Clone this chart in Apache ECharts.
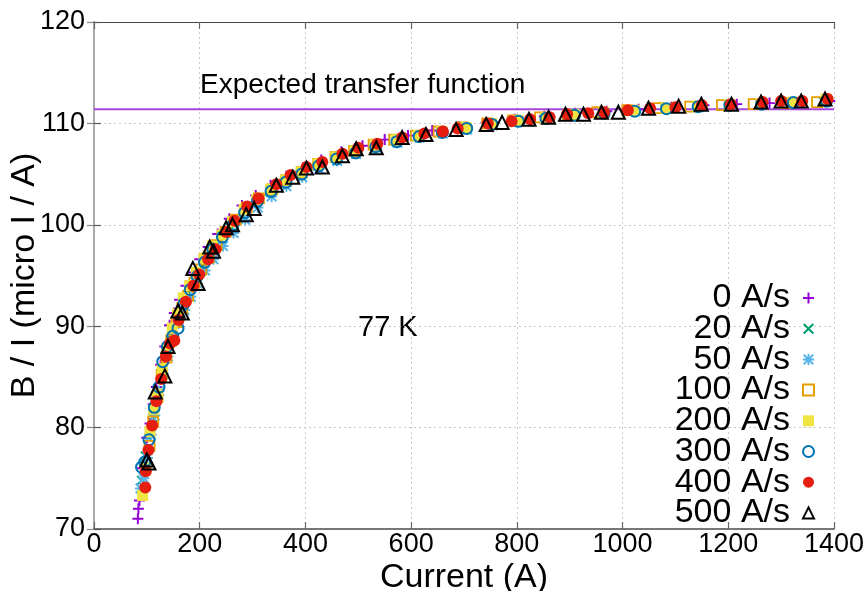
<!DOCTYPE html>
<html>
<head>
<meta charset="utf-8">
<script src="https://cdn.jsdelivr.net/npm/echarts@6/dist/echarts.min.js"></script>
<style>
  html, body { margin: 0; padding: 0; background: #fff; }
  #chart { width: 866px; height: 591px; }
</style>
</head>
<body>
<div id="chart"></div>
<script>
// Ramp-rate labels for each measured series
const rampRates = ['0 A/s', '20 A/s', '50 A/s', '100 A/s', '200 A/s', '300 A/s', '400 A/s', '500 A/s'];

// Current (A) and B/I (micro T / A) for each ramp rate
const cur0   = [83, 84, 86, 92, 100, 106, 112, 118, 126, 134, 143, 152, 162, 174, 186, 200, 216, 234, 256, 280, 306, 334, 364, 396, 430, 468, 508, 550, 594, 640, 690, 742, 796, 852, 910, 970, 1030, 1092, 1154, 1216, 1278, 1340, 1392];
const bi0    = [71.0, 72.0, 72.8, 76.0, 79.0, 80.4, 82.3, 84.0, 86.2, 88.0, 90.1, 91.3, 92.6, 94.0, 95.3, 96.6, 97.8, 99.1, 100.6, 101.9, 102.9, 103.9, 104.8, 105.6, 106.4, 107.2, 107.8, 108.4, 108.8, 109.3, 109.7, 110.1, 110.4, 110.7, 111.0, 111.2, 111.4, 111.6, 111.8, 111.9, 112.0, 112.1, 112.2];

const cur20  = [90, 97, 104, 111, 119, 128, 137, 147, 157, 168, 180, 193, 207, 222, 240, 260, 282, 306, 332, 360, 390, 422, 456, 492, 530, 570, 612, 656, 702, 750, 800, 852, 906, 962, 1020, 1080, 1140, 1200, 1260, 1320, 1380];
const bi20   = [74.8, 77.2, 79.0, 81.0, 83.0, 85.4, 87.5, 89.2, 90.5, 92.0, 93.3, 94.6, 95.9, 97.1, 98.4, 99.7, 100.9, 102.2, 103.3, 104.2, 105.0, 105.8, 106.6, 107.3, 107.8, 108.3, 108.8, 109.2, 109.6, 110.0, 110.3, 110.6, 110.9, 111.1, 111.3, 111.5, 111.7, 111.85, 111.95, 112.05, 112.15];

const cur50  = [88, 94, 101, 108, 115, 123, 131, 140, 150, 160, 171, 183, 196, 210, 226, 244, 264, 286, 310, 336, 364, 394, 426, 460, 496, 534, 574, 616, 660, 706, 754, 804, 856, 910, 966, 1024, 1084, 1144, 1204, 1264, 1324, 1384];
const bi50   = [74.0, 75.0, 77.0, 79.3, 81.2, 83.6, 85.3, 87.0, 88.8, 90.3, 91.6, 92.9, 94.2, 95.5, 96.6, 97.9, 99.2, 100.5, 101.7, 102.8, 103.8, 104.7, 105.5, 106.3, 107.0, 107.6, 108.1, 108.6, 109.0, 109.4, 109.8, 110.2, 110.5, 110.8, 111.0, 111.2, 111.45, 111.6, 111.75, 111.9, 112.0, 112.1];

const cur100 = [105, 112, 120, 128, 137, 146, 156, 167, 178, 190, 203, 217, 232, 249, 268, 289, 312, 337, 364, 393, 424, 457, 492, 529, 568, 609, 652, 697, 744, 793, 844, 897, 952, 1009, 1068, 1128, 1188, 1248, 1308, 1368];
const bi100  = [78.2, 80.6, 83.0, 85.2, 86.9, 88.6, 90.4, 91.8, 93.0, 94.3, 95.6, 96.8, 98.0, 99.3, 100.5, 101.7, 102.6, 103.5, 104.4, 105.2, 106.0, 106.7, 107.3, 107.9, 108.4, 108.8, 109.2, 109.6, 110.0, 110.3, 110.6, 110.85, 111.1, 111.3, 111.5, 111.65, 111.8, 111.9, 112.0, 112.1];

const cur200 = [92, 98, 106, 113, 120, 129, 138, 148, 158, 169, 181, 194, 208, 224, 242, 262, 284, 308, 334, 362, 392, 424, 458, 494, 532, 572, 614, 658, 704, 752, 802, 854, 908, 964, 1022, 1082, 1142, 1202, 1262, 1322, 1385];
const bi200  = [73.3, 76.0, 79.6, 81.8, 83.3, 85.8, 87.8, 89.8, 91.2, 92.8, 94.0, 95.3, 96.7, 97.9, 99.0, 100.3, 101.5, 102.5, 103.5, 104.4, 105.2, 106.0, 106.7, 107.3, 107.9, 108.4, 108.8, 109.2, 109.6, 110.0, 110.3, 110.6, 110.9, 111.1, 111.3, 111.5, 111.7, 111.85, 111.95, 112.1, 112.4];

const cur300 = [90, 96, 104, 114, 123, 130, 139, 149, 159, 170, 182, 195, 209, 225, 243, 263, 285, 309, 335, 363, 393, 425, 459, 495, 533, 573, 615, 659, 705, 753, 803, 855, 909, 965, 1023, 1083, 1143, 1203, 1263, 1323, 1386];
const bi300  = [76.1, 76.6, 78.8, 82.0, 84.0, 86.5, 88.0, 89.0, 89.8, 92.2, 93.6, 94.9, 96.3, 97.6, 98.8, 100.0, 101.2, 102.3, 103.3, 104.2, 105.0, 105.8, 106.5, 107.1, 107.7, 108.2, 108.7, 109.1, 109.5, 109.9, 110.2, 110.5, 110.8, 111.0, 111.2, 111.45, 111.65, 111.8, 111.9, 112.05, 112.2];

const cur400 = [97, 98, 103, 110, 118, 127, 136, 144, 152, 160, 174, 188, 199, 216, 230, 250, 266, 290, 311, 345, 372, 402, 432, 470, 500, 536, 583, 625, 660, 688, 745, 790, 825, 862, 895, 935, 965, 1010, 1052, 1100, 1150, 1205, 1265, 1300, 1340, 1388];
const bi400  = [74.1, 75.7, 77.8, 80.2, 82.6, 84.8, 87.0, 88.3, 88.6, 90.6, 92.4, 94.0, 95.1, 96.6, 97.6, 99.3, 100.4, 101.8, 102.6, 104.0, 104.9, 105.7, 106.2, 107.0, 107.6, 108.0, 108.6, 109.0, 109.2, 109.5, 110.0, 110.2, 110.4, 110.6, 110.9, 111.0, 111.1, 111.3, 111.5, 111.6, 111.8, 111.9, 112.1, 112.2, 112.2, 112.4];

const cur500 = [100, 104, 116, 134, 140, 159, 167, 187, 197, 219, 226, 250, 262, 288, 303, 345, 376, 402, 432, 470, 496, 534, 583, 628, 685, 742, 772, 823, 860, 892, 926, 960, 992, 1049, 1106, 1149, 1206, 1262, 1300, 1338, 1383];
const bi500  = [76.8, 76.5, 83.5, 85.1, 88.0, 91.5, 91.3, 95.7, 94.2, 97.8, 97.4, 99.7, 100.0, 101.0, 101.6, 103.9, 104.7, 105.6, 105.7, 106.8, 107.5, 107.6, 108.6, 108.9, 109.4, 109.9, 110.1, 110.4, 110.6, 110.9, 110.9, 111.1, 111.1, 111.5, 111.7, 111.9, 111.9, 112.1, 112.2, 112.2, 112.4];

// Expected (design) transfer function, constant over the current range
const expectedRange = [0, 1400];
const expectedValue = 111.4;

// Axis ranges and tick spacing
const xMin = 0, xMax = 1400, xStep = 200;
const yMin = 70, yMax = 120, yStep = 10;

const currents = [cur0, cur20, cur50, cur100, cur200, cur300, cur400, cur500];
const ratios   = [bi0, bi20, bi50, bi100, bi200, bi300, bi400, bi500];

const FONT = '"Liberation Sans", Arial, Helvetica, sans-serif';

// Marker shapes (gnuplot-like point types)
const PLUS = 'path://M4.1,0H5.9V4.1H10V5.9H5.9V10H4.1V5.9H0V4.1H4.1Z';
const CROSS = 'path://M1.3,0L5,3.7L8.7,0L10,1.3L6.3,5L10,8.7L8.7,10L5,6.3L1.3,10L0,8.7L3.7,5L0,1.3Z';
const STAR = PLUS + CROSS.replace('path://', '');

const markerStyles = [
  { symbol: PLUS,       size: 11, itemStyle: { color: '#9400d3' } },
  { symbol: CROSS,      size: 10, itemStyle: { color: '#009e73' } },
  { symbol: STAR,       size: 11, itemStyle: { color: '#56b4e9' } },
  { symbol: 'rect',     size: 10, itemStyle: { color: 'rgba(255,255,255,0)', borderColor: '#e69f00', borderWidth: 1.8 } },
  { symbol: 'rect',     size: 11, itemStyle: { color: '#f0e442' } },
  { symbol: 'circle',   size: 11, itemStyle: { color: 'rgba(255,255,255,0)', borderColor: '#0072b2', borderWidth: 2 } },
  { symbol: 'circle',   size: 12, itemStyle: { color: '#e51e10' } },
  { symbol: 'triangle', size: 13, itemStyle: { color: 'rgba(255,255,255,0)', borderColor: '#000000', borderWidth: 2 } }
];

const series = [{
  name: 'Expected transfer function',
  type: 'line',
  data: expectedRange.map(x => [x, expectedValue]),
  symbol: 'none',
  silent: true,
  lineStyle: { color: '#a645dc', width: 2 },
  z: 1
}];

rampRates.forEach((name, i) => {
  const m = markerStyles[i];
  series.push({
    name: name,
    type: 'scatter',
    data: currents[i].map((c, k) => [c, ratios[i][k]]),
    symbol: m.symbol,
    symbolSize: m.size,
    itemStyle: Object.assign({ opacity: 1 }, m.itemStyle),
    z: 2 + i,
    silent: true
  });
});

const gridLine = { show: true, lineStyle: { color: '#c8c8c8', width: 1, type: [2, 3] } };
const plainNumber = v => String(v);

const chart = echarts.init(document.getElementById('chart'), null, { renderer: 'canvas' });
chart.setOption({
  animation: false,
  backgroundColor: '#ffffff',
  textStyle: { fontFamily: FONT },
  grid: { left: 94, right: 32, top: 22, bottom: 62, show: false, containLabel: false, outerBoundsMode: 'none' },
  xAxis: [{
    type: 'value', min: xMin, max: xMax, interval: xStep,
    name: 'Current (A)', nameLocation: 'middle', nameGap: 32, nameMoveOverlap: false,
    nameTextStyle: { fontSize: 34, color: '#000', fontFamily: FONT },
    axisLine: { show: true, lineStyle: { color: '#777', width: 2 } },
    axisTick: { show: true, inside: true, length: 7, lineStyle: { color: '#666', width: 1.2 } },
    axisLabel: { fontSize: 27, color: '#000', margin: 2, fontFamily: FONT, formatter: plainNumber, hideOverlap: false },
    splitLine: gridLine
  }, {
    type: 'value', min: xMin, max: xMax, interval: xStep, position: 'top',
    axisLine: { show: true, lineStyle: { color: '#444', width: 1.2 } },
    axisTick: { show: true, inside: true, length: 7, lineStyle: { color: '#666', width: 1.2 } },
    axisLabel: { show: false },
    splitLine: { show: false }
  }],
  yAxis: [{
    type: 'value', min: yMin, max: yMax, interval: yStep,
    name: 'B / I (micro I / A)', nameLocation: 'middle', nameGap: 52, nameMoveOverlap: false,
    nameTextStyle: { fontSize: 34, color: '#000', fontFamily: FONT },
    axisLine: { show: true, lineStyle: { color: '#888', width: 2 } },
    axisTick: { show: true, inside: true, length: 7, lineStyle: { color: '#555', width: 1.2 } },
    axisLabel: { fontSize: 27, color: '#000', margin: 9, fontFamily: FONT, formatter: plainNumber },
    splitLine: gridLine
  }, {
    type: 'value', min: yMin, max: yMax, interval: yStep, position: 'right',
    axisLine: { show: true, lineStyle: { color: '#aaa', width: 2 } },
    axisTick: { show: true, inside: true, length: 7, lineStyle: { color: '#888', width: 1.2 } },
    axisLabel: { show: false },
    splitLine: { show: false }
  }],
  legend: {
    data: rampRates,
    orient: 'vertical',
    right: 51,
    top: 281,
    padding: 0,
    align: 'right',
    itemWidth: 11,
    itemHeight: 11,
    itemGap: -3.3,
    selectedMode: false,
    textStyle: { fontSize: 34, color: '#000', lineHeight: 28, padding: [0, 8, 0, 0], fontFamily: FONT }
  },
  graphic: [{
    type: 'text',
    left: 200, top: 71,
    style: { text: 'Expected transfer function', fill: '#000', font: '28px ' + FONT }
  }, {
    type: 'text',
    left: 358, top: 313,
    style: { text: '77 K', fill: '#000', font: '29px ' + FONT }
  }],
  series: series
});
</script>
</body>
</html>
